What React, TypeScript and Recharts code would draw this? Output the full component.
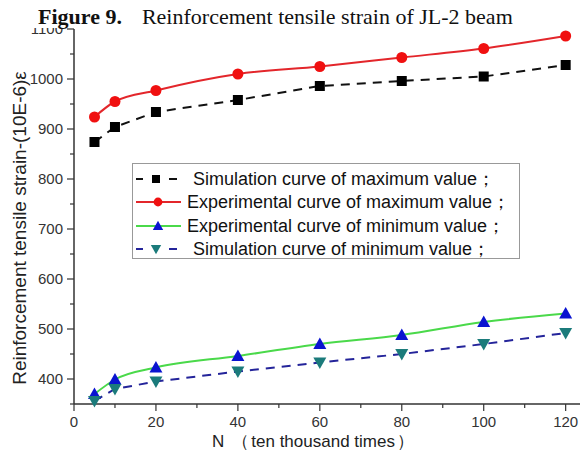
import { Legend, Line, LineChart, XAxis, YAxis } from "recharts";

const nValues = [5, 10, 20, 40, 60, 80, 100, 120];
const simMax = [874, 904, 934, 958, 986, 996, 1005, 1028];
const expMax = [924, 955, 977, 1010, 1025, 1043, 1061, 1086];
const expMin = [370, 399, 423, 446, 470, 488, 514, 531];
const simMin = [356, 380, 395, 415, 433, 450, 470, 492];

const xTicks = [0, 10, 20, 30, 40, 50, 60, 70, 80, 90, 100, 110, 120];
const yTicks = [350, 400, 450, 500, 550, 600, 650, 700, 750, 800, 850, 900, 950, 1000, 1050, 1100];

const data = nValues.map((n, i) => ({
  n,
  simMax: simMax[i],
  expMax: expMax[i],
  expMin: expMin[i],
  simMin: simMin[i],
}));

const SANS = "'Liberation Sans', Arial, sans-serif";
const AXIS = "#333";

type Shape = "square" | "circle" | "up" | "down";

const SERIES: {
  key: string;
  label: string;
  stroke: string;
  marker: string;
  shape: Shape;
  dashed: boolean;
  curve: "monotone" | "linear";
}[] = [
  { key: "simMax", label: "Simulation curve of maximum value；", stroke: "#111", marker: "#000", shape: "square", dashed: true, curve: "linear" },
  { key: "expMax", label: "Experimental curve of maximum value；", stroke: "#e3262b", marker: "#f01010", shape: "circle", dashed: false, curve: "monotone" },
  { key: "expMin", label: "Experimental curve of minimum value；", stroke: "#4ad94a", marker: "#0a14d0", shape: "up", dashed: false, curve: "monotone" },
  { key: "simMin", label: "Simulation curve of minimum value；", stroke: "#24249a", marker: "#1b7b7b", shape: "down", dashed: true, curve: "linear" },
];

function Marker({ cx, cy, shape, fill, s = 1 }: { cx: number; cy: number; shape: Shape; fill: string; s?: number }) {
  if (shape === "square") return <rect x={cx - 5 * s} y={cy - 5 * s} width={10 * s} height={10 * s} fill={fill} />;
  if (shape === "circle") return <circle cx={cx} cy={cy} r={5.5 * s} fill={fill} />;
  if (shape === "up")
    return <polygon points={`${cx},${cy - 6.5 * s} ${cx - 6.5 * s},${cy + 5 * s} ${cx + 6.5 * s},${cy + 5 * s}`} fill={fill} />;
  return <polygon points={`${cx},${cy + 6.5 * s} ${cx - 6.5 * s},${cy - 5 * s} ${cx + 6.5 * s},${cy - 5 * s}`} fill={fill} />;
}

// tickSize/tickMargin are 0, so x/y arrive on the axis line itself
function XTick({ x, y, payload }: any) {
  const major = payload.value % 20 === 0;
  return (
    <g>
      <line x1={x} x2={x} y1={y} y2={y + (major ? 7 : 4)} stroke={AXIS} strokeWidth={1.2} />
      {major && (
        <text x={x} y={y + 23} textAnchor="middle" fontFamily={SANS} fontSize={15} fill="#333">
          {payload.value}
        </text>
      )}
    </g>
  );
}

function YTick({ x, y, payload }: any) {
  const major = payload.value % 100 === 0;
  return (
    <g>
      <line x1={x} x2={x - (major ? 7 : 4)} y1={y} y2={y} stroke={AXIS} strokeWidth={1.2} />
      {major && (
        <text x={x - 11} y={y + 5} textAnchor="end" fontFamily={SANS} fontSize={15} fill="#333">
          {payload.value}
        </text>
      )}
    </g>
  );
}

function LegendBox() {
  return (
    <div
      style={{
        width: 388,
        height: 96,
        border: "1px solid #999",
        background: "#fff",
        fontFamily: SANS,
        fontSize: 18,
        color: "#111",
        paddingTop: 3,
        boxSizing: "border-box",
      }}
    >
      {SERIES.map((s) => (
        <div key={s.key} style={{ display: "flex", alignItems: "center", height: 23.5 }}>
          <svg width={s.dashed ? 60 : 54} height={16} style={{ flex: "none" }}>
            {s.dashed ? (
              <>
                <line x1={3} x2={10} y1={8} y2={8} stroke={s.stroke} strokeWidth={2} />
                <line x1={36} x2={44} y1={8} y2={8} stroke={s.stroke} strokeWidth={2} />
                <Marker cx={23} cy={8} shape={s.shape} fill={s.marker} s={0.8} />
              </>
            ) : (
              <>
                <line x1={3} x2={48} y1={8} y2={8} stroke={s.stroke} strokeWidth={2} />
                <Marker cx={25} cy={8} shape={s.shape} fill={s.marker} s={0.8} />
              </>
            )}
          </svg>
          <span style={{ whiteSpace: "nowrap" }}>{s.label}</span>
        </div>
      ))}
    </div>
  );
}

export default function App() {
  return (
    <div style={{ position: "absolute", left: 0, top: 0, width: 582, height: 450, background: "#fff" }}>
      <LineChart width={582} height={450} data={data} margin={{ top: 29, right: 2, left: 0, bottom: 0 }}>
        <XAxis
          dataKey="n"
          type="number"
          domain={[0, 123.5]}
          ticks={xTicks}
          interval={0}
          stroke={AXIS}
          strokeWidth={1.5}
          tickLine={false}
          tickSize={0}
          tickMargin={0}
          tick={<XTick />}
          height={46}
          label={{
            content: () => (
              <text x={212} y={447} fontFamily={SANS} fontSize={17} fill="#222">
                <tspan>N</tspan>
                <tspan dx={8}>（</tspan>
                <tspan dx={2}>ten thousand times</tspan>
                <tspan dx={2}>）</tspan>
              </text>
            ),
          }}
        />
        <YAxis
          type="number"
          domain={[350, 1100]}
          ticks={yTicks}
          interval={0}
          stroke={AXIS}
          strokeWidth={1.5}
          tickLine={false}
          tickSize={0}
          tickMargin={0}
          tick={<YTick />}
          width={74}
          label={{
            content: () => (
              <text
                x={26}
                y={228}
                transform="rotate(-90 26 228)"
                textAnchor="middle"
                fontFamily={SANS}
                fontSize={19}
                fill="#222"
              >
                Reinforcement tensile strain-(10E-6)ε
              </text>
            ),
          }}
        />
        <Legend
          layout="horizontal"
          verticalAlign="middle"
          align="center"
          wrapperStyle={{ left: 132, top: 163, width: 388 }}
          content={() => <LegendBox />}
        />
        {SERIES.map((s) => (
          <Line
            key={s.key}
            dataKey={s.key}
            type={s.curve}
            stroke={s.stroke}
            strokeWidth={2}
            strokeDasharray={s.dashed ? "9 7" : undefined}
            isAnimationActive={false}
            dot={(p: any) => <Marker key={`${s.key}-${p.index}`} cx={p.cx} cy={p.cy} shape={s.shape} fill={s.marker} />}
            activeDot={false}
          />
        ))}
      </LineChart>
      <div
        style={{
          position: "absolute",
          left: 0,
          top: 0,
          width: 582,
          height: 28,
          background: "#fff",
        }}
      >
        <div
          style={{
            position: "absolute",
            left: 38,
            top: 6,
            lineHeight: "22px",
            fontFamily: "'Liberation Serif', 'Times New Roman', serif",
            fontSize: 22,
            color: "#111",
            whiteSpace: "nowrap",
          }}
        >
          <b>Figure 9.</b>
          <span style={{ marginLeft: 20 }}>Reinforcement tensile strain of JL-2 beam</span>
        </div>
      </div>
    </div>
  );
}
